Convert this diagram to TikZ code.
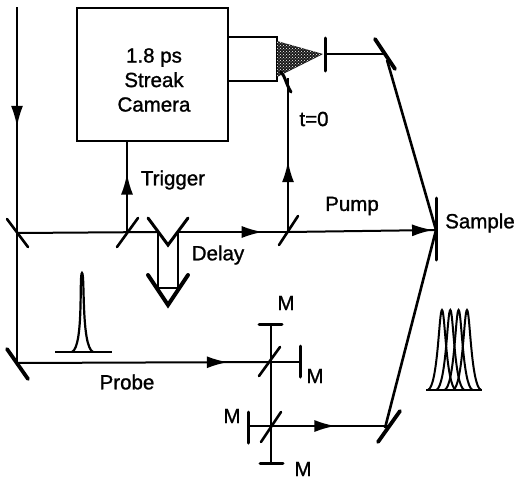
\documentclass[tikz,border=0pt]{standalone}
\usepackage{fontspec}
\setmainfont{Liberation Sans}
\newfontfamily\lblfont{Liberation Sans}[RawFeature={embolden=1.2}]
\usetikzlibrary{arrows.meta,patterns,decorations.markings}
\tikzset{
  beam/.style={line width=2pt},
  ray/.style={beam,postaction={decorate},decoration={markings,mark=at position #1 with {\arrow{Latex[length=21pt,width=12pt]}}}},
  optic/.style={line width=2.6pt,line cap=round},
  heavy/.style={line width=3.8pt,line cap=round},
  endm/.style={line width=3pt,line cap=round},
  lbl/.style={font=\fontsize{20.5}{24.5}\selectfont\lblfont,inner sep=0pt},
}
\begin{document}
\begin{tikzpicture}[x=1pt,y=-1pt]
  \useasboundingbox (0,0) rectangle (519,482);
  % camera
  \node[draw,line width=2.2pt,minimum width=151pt,minimum height=133pt,inner sep=0pt] (camera) at (152.5,74.5) {};
  \node[lbl,align=center] (cameralabel) at (154,80) {1.8 ps\\Streak\\Camera};
  \draw[line width=2.2pt] (228,37) -- (277,37) -- (277,81) -- (228,81);
  \fill[black!90,postaction={pattern=crosshatch dots,pattern color=white}] (277,41) -- (323,54) -- (277,77) -- cycle;
  \coordinate (slit) at (325,54);
  \coordinate (topm) at (385,54);
  \coordinate (corner) at (288,78);
  \coordinate (start) at (17,7);
  \coordinate (bs1) at (17,233);
  \coordinate (bs2) at (127,232);
  \coordinate (bs3) at (288,232);
  \coordinate (dlyin) at (158,232);
  \coordinate (dlyout) at (178,232);
  \coordinate (samp) at (436,230);
  \coordinate (botm) at (17,363);
  \coordinate (bs4) at (271,362);
  \coordinate (bs5) at (271,426);
  \coordinate (rightm) at (389,426);
  \coordinate (mtop) at (271,324);
  \coordinate (mright) at (300,362);
  \coordinate (mleft) at (248,426);
  \coordinate (mbot) at (271,463);
  % mirrors
  \draw[heavy,line width=3pt] (325,38) -- (325,71);
  \draw[heavy] (375,39) -- (395,69);
  \draw[heavy,line width=3pt] (281,72) .. controls (285,76) and (286,84) .. (291,92);
  \draw[optic] (7,219) -- (28,247);
  \draw[optic] (117,247) -- (138,218);
  \draw[optic] (279,245) -- (298,216);
  \draw[heavy,line width=3pt] (436,198) -- (436,260);
  \draw[heavy] (7,349) -- (28,379);
  \draw[optic] (259,376) -- (280,347);
  \draw[optic] (261,442) -- (281,412);
  \draw[heavy] (378,442) -- (400,411);
  % delay
  \draw[endm,line width=3pt] (148,218) -- (168,245) -- (188,218);
  \draw[beam] (dlyin) -- (158,288) -- (178,288) -- (dlyout);
  \draw[heavy,line width=4pt] (148,275) -- (168,305) -- (188,275);
  % end mirrors
  \draw[endm] (259,324) -- (282,324);
  \draw[endm] (300,346) -- (300,377);
  \draw[endm] (248,412) -- (248,443);
  \draw[endm] (260,463) -- (283,463);
  % beams
  \draw[ray=0.53] (start) -- (bs1);
  \draw[beam] (bs1) -- (botm);
  \draw[beam] (bs1) -- (dlyin);
  \draw[ray=0.77] (dlyout) -- (bs3);
  \draw[ray=0.98] (bs3) -- (samp);
  \draw[ray=0.46] (bs3) -- (corner);
  \draw[ray=0.65] (bs2) -- (bs2 |- camera.south);
  \draw[ray=0.83] (botm) -- (bs4);
  \draw[beam] (bs4) -- (mright);
  \draw[beam] (mtop) -- (mbot);
  \draw[ray=0.62] (mleft) -- (rightm);
  \draw[line width=2.6pt] (387,60) -- (samp);
  \draw[line width=2.6pt] (samp) -- (385,428);
  \draw[beam] (slit) -- (topm);
  % pulses
  \draw[line width=2.2pt] (55,352) -- (112,352);
  \draw[line width=2.2pt] (72,352) .. controls (84,346) and (79,273) .. (82,273) .. controls (85,273) and (81,346) .. (93,352);
  \foreach \dx in {0,8.3,16.6,25}{
    \draw[line width=2pt] (428+\dx,390) .. controls (438+\dx,386) and (439+\dx,310) .. (442+\dx,310) .. controls (445+\dx,310) and (446+\dx,386) .. (456+\dx,390);
  }
  \draw[line width=2.2pt] (426,390) -- (482,390);
  % labels
  \node[lbl] (trigger) at (173,180) {Trigger};
  \node[lbl] (tzero) at (314,119) {t=0};
  \node[lbl] (pump) at (352,206) {Pump};
  \node[lbl] (sample) at (480,223) {Sample};
  \node[lbl] (delay) at (218,255) {Delay};
  \node[lbl] (probe) at (127,382) {Probe};
  \node[lbl] (m1) at (286,303) {M};
  \node[lbl] (m2) at (315,376) {M};
  \node[lbl] (m3) at (232,416) {M};
  \node[lbl] (m4) at (303,469) {M};
\end{tikzpicture}
\end{document}
